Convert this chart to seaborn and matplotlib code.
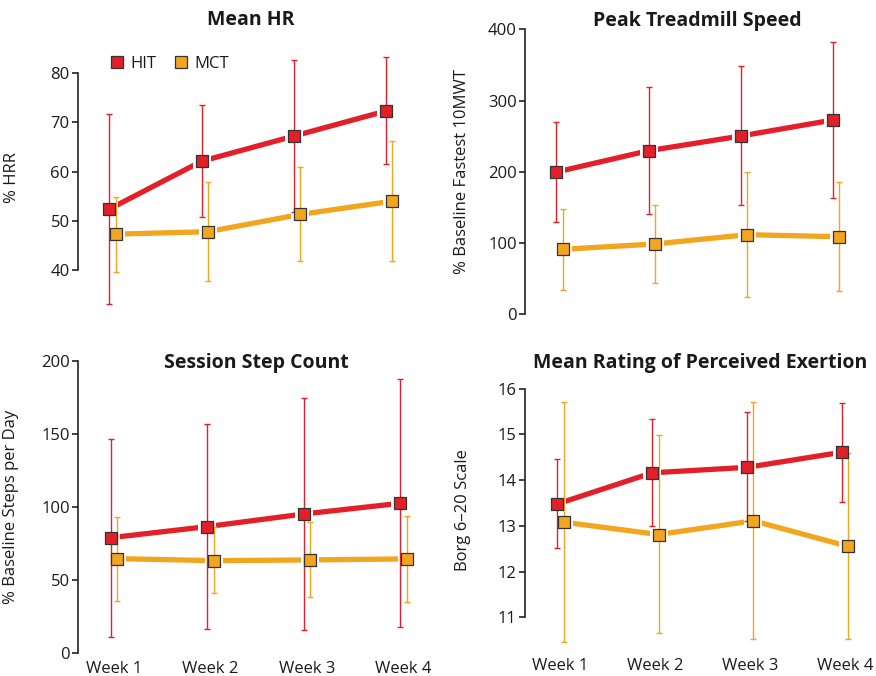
import matplotlib
matplotlib.use("Agg")
import matplotlib.pyplot as plt
from matplotlib.lines import Line2D
import numpy as np
import pandas as pd
import seaborn as sns

sns.set_style("white")
plt.rcParams["font.family"] = ["Open Sans", "DejaVu Sans"]
plt.rcParams["text.color"] = "#1a1a1a"
plt.rcParams["ytick.labelcolor"] = "#1a1a1a"
plt.rcParams["xtick.labelcolor"] = "#1a1a1a"
plt.rcParams["axes.labelcolor"] = "#1a1a1a"

weeks = ["Week 1", "Week 2", "Week 3", "Week 4"]
groups = ["HIT", "MCT"]
colors = {"HIT": "#e3202a", "MCT": "#f2a51e"}

# mean, lower, upper per group for each panel
hr_mean = {"HIT": [52.4, 62.1, 67.2, 72.3], "MCT": [47.3, 47.8, 51.3, 54.0]}
hr_lo = {"HIT": [33.1, 50.7, 51.8, 61.5], "MCT": [39.7, 37.8, 41.9, 41.9]}
hr_hi = {"HIT": [71.7, 73.6, 82.6, 83.3], "MCT": [54.9, 57.9, 60.9, 66.2]}

speed_mean = {"HIT": [199.7, 229.6, 250.2, 272.7], "MCT": [91.2, 98.7, 111.7, 108.9]}
speed_lo = {"HIT": [129.1, 140.4, 153.4, 163.2], "MCT": [34.1, 44.4, 24.7, 32.7]}
speed_hi = {"HIT": [270.3, 319.5, 348.5, 382.2], "MCT": [148.2, 153.8, 199.7, 186.1]}

steps_mean = {"HIT": [79.0, 86.6, 95.2, 102.5], "MCT": [64.7, 63.3, 63.8, 64.5]}
steps_lo = {"HIT": [11.4, 16.9, 15.9, 17.8], "MCT": [36.0, 41.0, 38.3, 35.3]}
steps_hi = {"HIT": [146.7, 156.7, 174.5, 187.2], "MCT": [93.4, 86.0, 89.5, 93.8]}

rpe_mean = {"HIT": [13.48, 14.16, 14.28, 14.61], "MCT": [13.08, 12.81, 13.11, 12.55]}
rpe_lo = {"HIT": [12.51, 13.0, 13.1, 13.53], "MCT": [10.46, 10.65, 10.52, 10.52]}
rpe_hi = {"HIT": [14.47, 15.33, 15.49, 15.69], "MCT": [15.71, 14.98, 15.72, 14.59]}

W, H = 876, 676
fig = plt.figure(figsize=(W / 100, H / 100), dpi=100)


def make_ax(left, top, width, height):
    return fig.add_axes([left / W, 1 - (top + height) / H, width / W, height / H])


def draw_panel(ax, mean, lo, hi, title, ylabel, ylim, yticks, title_xy, label_xy, xlabels):
    rows = []
    offs = {"HIT": -0.034, "MCT": 0.034}
    for g in groups:
        for i, w in enumerate(weeks):
            rows.append({"group": g, "pos": i + offs[g], "mean": mean[g][i],
                         "lo": lo[g][i], "hi": hi[g][i]})
    df = pd.DataFrame(rows)

    sns.lineplot(data=df, x="pos", y="mean", hue="group", palette=colors,
                 linewidth=3.8, legend=False, ax=ax, zorder=1)
    # white halo so the lines stop short of the markers
    sns.scatterplot(data=df, x="pos", y="mean", color="white", marker="s",
                    s=180, linewidth=0, legend=False, ax=ax, zorder=2)
    for g in groups:
        d = df[df.group == g]
        ax.errorbar(d["pos"], d["mean"], yerr=[d["mean"] - d["lo"], d["hi"] - d["mean"]],
                    fmt="none", ecolor=colors[g], elinewidth=1.0, capsize=2,
                    capthick=1.0, zorder=3)
        sns.scatterplot(data=d, x="pos", y="mean", color=colors[g], marker="s",
                        s=78, edgecolor="#333333", linewidth=0.9, legend=False,
                        ax=ax, zorder=4)

    ax.set_xlim(-0.375, 3.4)
    ax.set_ylim(*ylim)
    ax.set_yticks(yticks)
    ax.set_xticks(range(len(weeks)))
    ax.set_xticklabels(weeks if xlabels else [])
    ax.set_xlabel("")
    for s in ["top", "right", "bottom"]:
        ax.spines[s].set_visible(False)
    ax.spines["left"].set_bounds(yticks[0], yticks[-1])
    ax.spines["left"].set_linewidth(1.2)
    ax.spines["left"].set_color("#222222")
    ax.tick_params(axis="y", direction="out", length=4, width=1.2, color="#222222",
                   labelsize=12, pad=2, left=True)
    ax.tick_params(axis="x", length=0, labelsize=12, pad=4)
    ax.set_facecolor("none")
    ax.set_ylabel(ylabel, fontsize=12)
    ax.yaxis.set_label_coords(label_xy[0] / W, 1 - label_xy[1] / H, transform=fig.transFigure)
    fig.text(title_xy[0] / W, 1 - title_xy[1] / H, title, fontsize=14, fontweight="bold",
             ha="center", va="center")


ax1 = make_ax(78, 40, 348, 275)
draw_panel(ax1, hr_mean, hr_lo, hr_hi, "Mean HR", "% HRR", (30.9, 86.7),
           [40, 50, 60, 70, 80], (251, 20), (20, 177), False)

ax2 = make_ax(525, 25, 348, 293)
draw_panel(ax2, speed_mean, speed_lo, speed_hi, "Peak Treadmill Speed",
           "% Baseline Fastest 10MWT", (-5.2, 406), [0, 100, 200, 300, 400],
           (697, 21), (470, 171), False)

ax3 = make_ax(78, 355, 364, 300)
draw_panel(ax3, steps_mean, steps_lo, steps_hi, "Session Step Count",
           "% Baseline Steps per Day", (-1.2, 203.9), [0, 50, 100, 150, 200],
           (256, 363), (19, 507), True)

ax4 = make_ax(525, 375, 358, 277)
draw_panel(ax4, rpe_mean, rpe_lo, rpe_hi, "Mean Rating of Perceived Exertion",
           "Borg 6\u201320 Scale", (10.24, 16.3), [11, 12, 13, 14, 15, 16],
           (700, 363), (471, 510), True)

handles = [Line2D([], [], marker="s", linestyle="none", markersize=9.0,
                  markerfacecolor=colors[g], markeredgecolor="#333333",
                  markeredgewidth=0.9, label=g) for g in groups]
fig.legend(handles=handles, loc="center left", bbox_to_anchor=(100 / W, 1 - 64 / H),
           ncol=2, frameon=False, fontsize=12, handletextpad=0.3, columnspacing=1.0,
           handlelength=1.0, borderpad=0)

fig.savefig("out.png", dpi=100)
